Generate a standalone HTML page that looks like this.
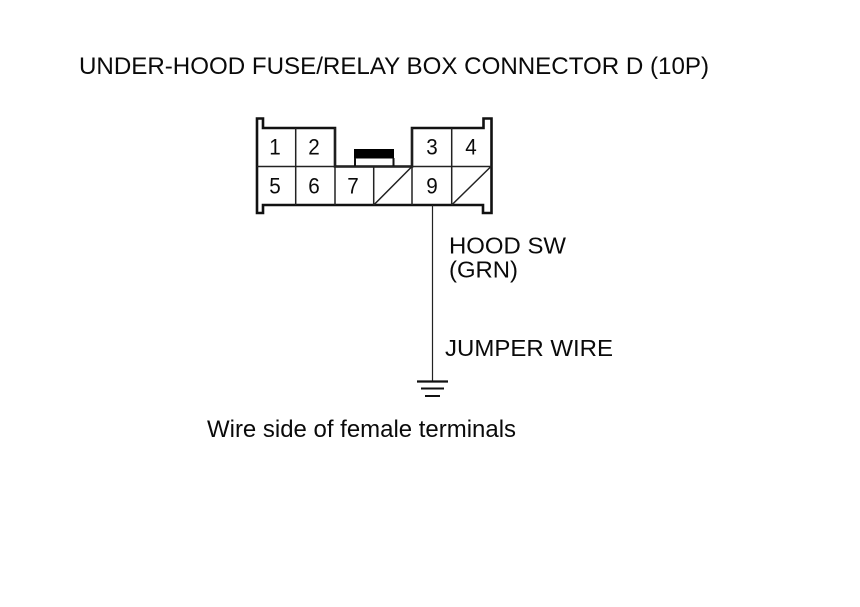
<!DOCTYPE html>
<html>
<head>
<meta charset="utf-8">
<style>
html,body{margin:0;padding:0;background:#fff;width:860px;height:607px;overflow:hidden}
svg{display:block}
text{font-family:"Liberation Sans",sans-serif;fill:#0a0a0a}
</style>
</head>
<body>
<svg width="860" height="607" viewBox="0 0 860 607" xmlns="http://www.w3.org/2000/svg">
<rect width="860" height="607" fill="#fff"/>
<text x="79" y="74" font-size="24" textLength="630" lengthAdjust="spacingAndGlyphs">UNDER-HOOD FUSE/RELAY BOX CONNECTOR D (10P)</text>

<!-- connector outline -->
<path d="M335 128H263V118.500H257V213H263V205H483V213H491.500V118.500H483.500V128H412V166.500H335Z" fill="#fff" stroke="#111" stroke-width="2.600"/>
<!-- grid -->
<g stroke="#222" stroke-width="1.500" fill="none">
<path d="M257 166.500H491.500"/>
<path d="M295.700 128V205M335 128V205M373.700 166.500V205M412 128V205M451.700 128V205"/>
<path d="M373.700 205L412 166.500M451.700 205L491 166.500"/>
</g>
<!-- latch -->
<rect x="354" y="149" width="40" height="9.500" fill="#000"/>
<path d="M355 158V166M393.500 158V166" stroke="#111" stroke-width="2"/>

<!-- pin numbers -->
<g font-size="22" text-anchor="middle">
<text x="275" y="154.500" textLength="11.500" lengthAdjust="spacingAndGlyphs">1</text>
<text x="314" y="154.500" textLength="11.500" lengthAdjust="spacingAndGlyphs">2</text>
<text x="432" y="154.500" textLength="11.500" lengthAdjust="spacingAndGlyphs">3</text>
<text x="471" y="154.500" textLength="11.500" lengthAdjust="spacingAndGlyphs">4</text>
<text x="275" y="193.500" textLength="11.500" lengthAdjust="spacingAndGlyphs">5</text>
<text x="314" y="193.500" textLength="11.500" lengthAdjust="spacingAndGlyphs">6</text>
<text x="353" y="193.500" textLength="11.500" lengthAdjust="spacingAndGlyphs">7</text>
<text x="432" y="193.500" textLength="11.500" lengthAdjust="spacingAndGlyphs">9</text>
</g>

<!-- wire -->
<path d="M432.500 205V381" stroke="#222" stroke-width="1.200" fill="none"/>
<!-- ground -->
<path d="M417 381.500H448" stroke="#111" stroke-width="2.200"/>
<path d="M421 388.500H444" stroke="#111" stroke-width="2"/>
<path d="M425 396H440" stroke="#111" stroke-width="2"/>

<text x="449" y="253.300" font-size="23.500" textLength="117" lengthAdjust="spacingAndGlyphs">HOOD SW</text>
<text x="449" y="277.300" font-size="23.500" textLength="69" lengthAdjust="spacingAndGlyphs">(GRN)</text>
<text x="445" y="356" font-size="23.500" textLength="168" lengthAdjust="spacingAndGlyphs">JUMPER WIRE</text>
<text x="207" y="437" font-size="24" textLength="309" lengthAdjust="spacingAndGlyphs">Wire side of female terminals</text>
</svg>
</body>
</html>
